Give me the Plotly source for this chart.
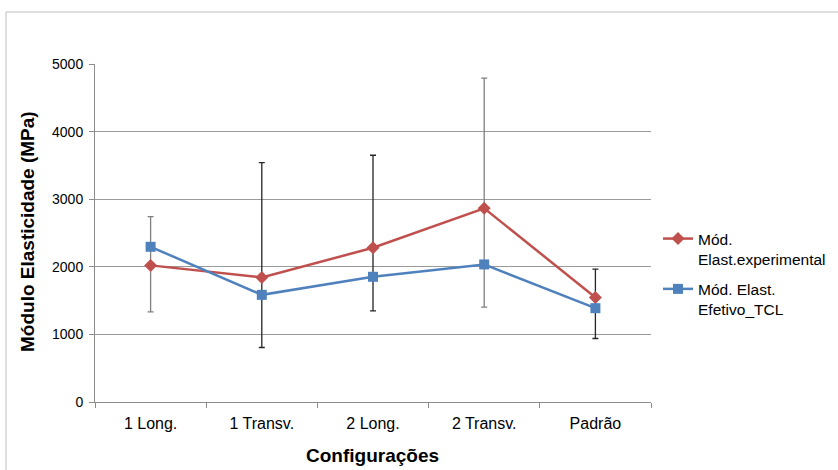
import plotly.graph_objects as go

categories = ["1 Long.", "1 Transv.", "2 Long.", "2 Transv.", "Padrão"]
experimental = [2021, 1843, 2281, 2865, 1547]
efetivo_tcl = [2296, 1585, 1852, 2035, 1388]
err_high = [2741, 3541, 3650, 4791, 1966]
err_low = [1333, 806, 1348, 1403, 939]
err_colors = ["#7f7f7f", "#262626", "#262626", "#7f7f7f", "#262626"]

FONT = "Liberation Sans, Arial, sans-serif"
L, R, T, B = 95, 187, 64, 68
W, H = 838, 470
PW, PH = W - L - R, H - T - B


def px(xp):
    return (xp - L) / PW


def py(yp):
    return (H - B - yp) / PH


fig = go.Figure()

for i, c in enumerate(categories):
    fig.add_trace(go.Scatter(
        x=[c], y=[experimental[i]], mode="markers",
        marker=dict(color="rgba(0,0,0,0)", size=1),
        error_y=dict(type="data", symmetric=False,
                     array=[err_high[i] - experimental[i]],
                     arrayminus=[experimental[i] - err_low[i]],
                     color=err_colors[i], thickness=1.3, width=3),
        showlegend=False, hoverinfo="skip"))

fig.add_trace(go.Scatter(
    x=categories, y=experimental, mode="lines+markers",
    name="Mód.<br>Elast.experimental", legendgroup="exp",
    line=dict(color="#C0504D", width=2.5),
    marker=dict(symbol="diamond", size=10, color="#C0504D")))

fig.add_trace(go.Scatter(
    x=categories, y=efetivo_tcl, mode="lines+markers",
    name="Mód. Elast.<br>Efetivo_TCL", legendgroup="tcl",
    line=dict(color="#4F81BD", width=2.5),
    marker=dict(symbol="square", size=10, color="#4F81BD")))

fig.update_layout(
    width=W, height=H,
    margin=dict(l=L, r=R, t=T, b=B, autoexpand=False),
    paper_bgcolor="white", plot_bgcolor="white",
    font=dict(family=FONT, size=15, color="#000000"),
    legend=dict(x=px(658), y=py(222), xanchor="left", yanchor="top",
                valign="top", font=dict(size=15.5, family=FONT),
                tracegroupgap=7, bgcolor="rgba(0,0,0,0)"),
    xaxis=dict(type="category", range=[-0.5, len(categories) - 0.5],
               tickson="boundaries", ticks="outside",
               ticklen=5, tickcolor="#8c8c8c", showline=True,
               linecolor="#8c8c8c", linewidth=1, showgrid=False,
               automargin=False, ticklabelstandoff=7,
               tickfont=dict(size=16, family=FONT)),
    yaxis=dict(range=[0, 5000], dtick=1000, ticks="outside", ticklen=5,
               tickcolor="#8c8c8c", showline=True, linecolor="#8c8c8c",
               linewidth=1, showgrid=True, gridcolor="#9a9a9a",
               gridwidth=1, zeroline=False, automargin=False,
               ticklabelstandoff=3,
               tickfont=dict(size=14, family=FONT)),
    annotations=[
        dict(text="<b>Configurações</b>", xref="paper", yref="paper",
             x=px(372), y=py(455), xanchor="center", yanchor="middle",
             showarrow=False, font=dict(size=19, family=FONT)),
        dict(text="<b>Módulo Elasticidade (MPa)</b>", xref="paper",
             yref="paper", x=px(27), y=py(232), xanchor="center",
             yanchor="middle", textangle=-90, showarrow=False,
             font=dict(size=19, family=FONT)),
    ],
    shapes=[
        dict(type="line", xref="paper", yref="paper",
             x0=px(6), x1=px(840), y0=py(12), y1=py(12),
             line=dict(color="#bdbdbd", width=1)),
        dict(type="line", xref="paper", yref="paper",
             x0=px(6), x1=px(6), y0=py(12), y1=py(472),
             line=dict(color="#bdbdbd", width=1)),
    ],
)

fig.write_html(
    "out.html",
    config={"displayModeBar": False},
    post_script="document.body.style.margin='0';"
                "document.body.style.padding='0';"
                "document.body.style.overflow='hidden';")
